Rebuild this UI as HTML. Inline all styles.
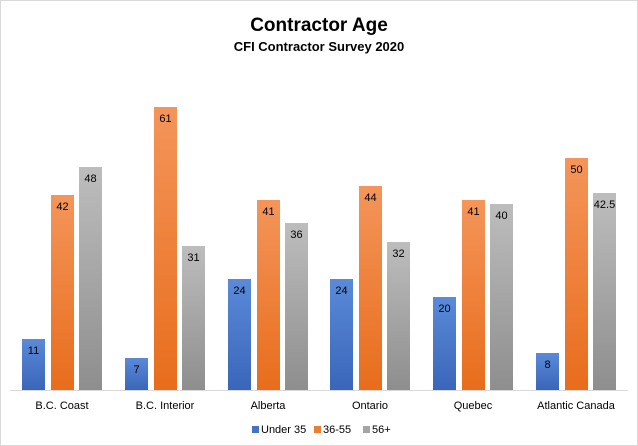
<!DOCTYPE html>
<html><head><meta charset="utf-8"><style>
body{margin:0;background:#fff}
svg{display:block;font-family:"Liberation Sans",sans-serif}
</style></head><body>
<svg width="638" height="446" viewBox="0 0 638 446">
<defs>
<linearGradient id="b" x1="0" y1="0" x2="0" y2="1"><stop offset="0" stop-color="#5b8ad9"/><stop offset="1" stop-color="#3a66b9"/></linearGradient>
<linearGradient id="o" x1="0" y1="0" x2="0" y2="1"><stop offset="0" stop-color="#f4955a"/><stop offset="1" stop-color="#e86d1c"/></linearGradient>
<linearGradient id="g" x1="0" y1="0" x2="0" y2="1"><stop offset="0" stop-color="#bdbdbd"/><stop offset="1" stop-color="#8e8e8e"/></linearGradient>
</defs>
<rect x="0.5" y="0.5" width="637" height="445" fill="#fff" stroke="#d9d9d9"/>
<text x="319" y="31" text-anchor="middle" font-size="19" font-weight="bold">Contractor Age</text>
<text x="319" y="51" text-anchor="middle" font-size="13" font-weight="bold">CFI Contractor Survey 2020</text>
<line x1="10" y1="390.5" x2="628" y2="390.5" stroke="#d9d9d9"/>
<g>
<rect x="22" y="339" width="23" height="51" fill="url(#b)"/>
<rect x="51" y="195" width="23" height="195" fill="url(#o)"/>
<rect x="79" y="167" width="23" height="223" fill="url(#g)"/>
<rect x="125" y="358" width="23" height="32" fill="url(#b)"/>
<rect x="154" y="107" width="23" height="283" fill="url(#o)"/>
<rect x="182" y="246" width="23" height="144" fill="url(#g)"/>
<rect x="228" y="279" width="23" height="111" fill="url(#b)"/>
<rect x="257" y="200" width="23" height="190" fill="url(#o)"/>
<rect x="285" y="223" width="23" height="167" fill="url(#g)"/>
<rect x="330" y="279" width="23" height="111" fill="url(#b)"/>
<rect x="359" y="186" width="23" height="204" fill="url(#o)"/>
<rect x="387" y="242" width="23" height="148" fill="url(#g)"/>
<rect x="433" y="297" width="23" height="93" fill="url(#b)"/>
<rect x="462" y="200" width="23" height="190" fill="url(#o)"/>
<rect x="490" y="204" width="23" height="186" fill="url(#g)"/>
<rect x="536" y="353" width="23" height="37" fill="url(#b)"/>
<rect x="565" y="158" width="23" height="232" fill="url(#o)"/>
<rect x="593" y="193" width="23" height="197" fill="url(#g)"/>
</g>
<g font-size="11" text-anchor="middle" fill="#000">
<text x="33.5" y="354">11</text><text x="62.5" y="210">42</text><text x="90.5" y="182">48</text>
<text x="136.5" y="373">7</text><text x="165.5" y="122">61</text><text x="193.5" y="261">31</text>
<text x="239.5" y="294">24</text><text x="268.5" y="215">41</text><text x="296.5" y="238">36</text>
<text x="341.5" y="294">24</text><text x="370.5" y="201">44</text><text x="398.5" y="257">32</text>
<text x="444.5" y="312">20</text><text x="473.5" y="215">41</text><text x="501.5" y="219">40</text>
<text x="547.5" y="368">8</text><text x="576.5" y="173">50</text><text x="604.5" y="208">42.5</text>
</g>
<g font-size="11" text-anchor="middle">
<text x="62" y="409">B.C. Coast</text>
<text x="165" y="409">B.C. Interior</text>
<text x="268" y="409">Alberta</text>
<text x="370" y="409">Ontario</text>
<text x="473" y="409">Quebec</text>
<text x="576" y="409">Atlantic Canada</text>
</g>
<g font-size="11">
<rect x="252" y="426" width="7" height="7" fill="#4472c4"/><text x="261" y="433">Under 35</text>
<rect x="314" y="426" width="7" height="7" fill="#ed7d31"/><text x="323" y="433">36-55</text>
<rect x="363" y="426" width="7" height="7" fill="#a5a5a5"/><text x="372" y="433">56+</text>
</g>
</svg>
</body></html>
